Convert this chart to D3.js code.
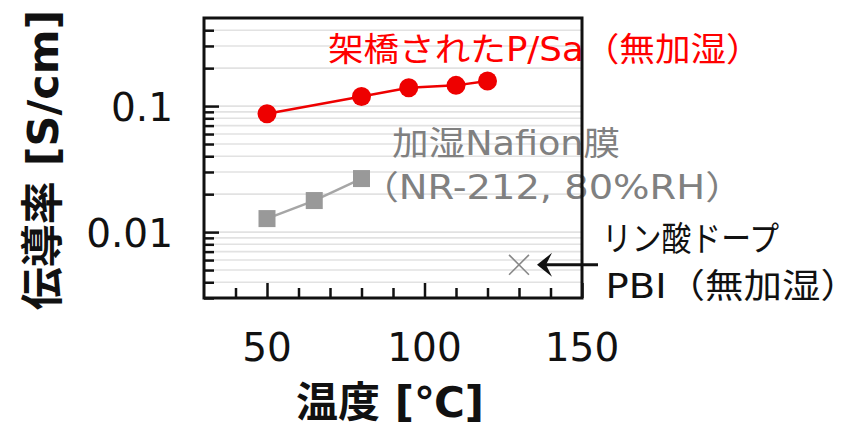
<!DOCTYPE html>
<html>
<head>
<meta charset="utf-8">
<script src="https://cdn.jsdelivr.net/npm/d3@7/dist/d3.min.js"></script>
<style>
  html, body { margin: 0; padding: 0; background: #fff; }
  svg { display: block; }
  text { font-family: "DejaVu Sans", "Noto Sans CJK JP", sans-serif; }
</style>
</head>
<body>
<svg id="chart" width="852" height="428"></svg>
<script>
// Crosslinked P/Sa (no humidification)
const psaTemp = [50, 80, 95, 110, 120];
const psaCond = [0.087, 0.119, 0.140, 0.146, 0.158];
// Humidified Nafion NR-212, 80%RH
const nafionTemp = [50, 65, 80];
const nafionCond = [0.0128, 0.0178, 0.0266];
// Phosphoric-acid-doped PBI (no humidification)
const pbiTemp = [130];
const pbiCond = [0.0055];

const xMajorTicks = [50, 100, 150];
const xMinorTicks = [40, 60, 70, 80, 90, 110, 120, 130, 140];
const yMajorTicks = [0.01, 0.1];
const yMinorTicks = [0.003, 0.004, 0.005, 0.006, 0.007, 0.008, 0.009,
                     0.02, 0.03, 0.04, 0.05, 0.06, 0.07, 0.08, 0.09,
                     0.2, 0.3, 0.4];

const labelPsa = "架橋されたP/Sa（無加湿）";
const labelNafion = ["加湿Nafion膜", "（NR-212, 80%RH）"];
const labelPbi = ["リン酸ドープ", "PBI（無加湿）"];
const xTitle = "温度 [℃]";
const yTitle = "伝導率 [S/cm]";

const FONT = '"DejaVu Sans", "Noto Sans CJK JP", sans-serif';
const svg = d3.select("#chart");
const L = 204, R = 582, T = 18, B = 298;

const x = d3.scaleLinear().domain([30, 150]).range([L, R]);
const y = d3.scaleLog().domain([0.003, 0.5]).range([B, T]);

// horizontal grid at every major and minor decade step
svg.append("g")
  .selectAll("line")
  .data(yMajorTicks.concat(yMinorTicks))
  .join("line")
  .attr("x1", L).attr("x2", R)
  .attr("y1", d => y(d)).attr("y2", d => y(d))
  .attr("stroke", "#e2e2e2").attr("stroke-width", 1.6);

// inward ticks
const xAxisMinor = d3.axisTop(x).tickValues(xMinorTicks).tickSize(10).tickFormat("");
const xAxisMajor = d3.axisTop(x).tickValues(xMajorTicks).tickSize(15).tickFormat("");
const yAxisMinor = d3.axisRight(y).tickValues(yMinorTicks).tickSize(10).tickFormat("");
const yAxisMajor = d3.axisRight(y).tickValues(yMajorTicks).tickSize(15).tickFormat("");

[xAxisMinor, xAxisMajor].forEach(ax => {
  const g = svg.append("g").attr("transform", `translate(0,${B})`).call(ax);
  g.select(".domain").remove();
  g.selectAll("line").attr("stroke", "#111").attr("stroke-width", 2.5);
});
[yAxisMinor, yAxisMajor].forEach(ax => {
  const g = svg.append("g").attr("transform", `translate(${L},0)`).call(ax);
  g.select(".domain").remove();
  g.selectAll("line").attr("stroke", "#111").attr("stroke-width", 2.5);
});

// tick labels
svg.append("g").selectAll("text")
  .data(xMajorTicks).join("text")
  .attr("x", d => x(d)).attr("y", 361)
  .attr("text-anchor", "middle")
  .attr("font-size", 39).attr("fill", "#111")
  .text(d => d);
svg.append("g").selectAll("text")
  .data(yMajorTicks).join("text")
  .attr("x", 173).attr("y", d => y(d) + 15)
  .attr("text-anchor", "end")
  .attr("font-size", 39).attr("fill", "#111")
  .text(d => d3.format("~g")(d));

// axis titles
svg.append("text")
  .attr("x", 390).attr("y", 417)
  .attr("text-anchor", "middle")
  .attr("font-size", 42).attr("font-weight", "bold").attr("fill", "#111")
  .text(xTitle);
svg.append("text")
  .attr("transform", "translate(58,160) rotate(-90)")
  .attr("text-anchor", "middle")
  .attr("font-size", 43).attr("font-weight", "bold").attr("fill", "#111")
  .text(yTitle);

// annotation text fitted so its ink spans [left, right]
const ctx = document.createElement("canvas").getContext("2d");
function fittedText(str, left, right, baseline, size, color) {
  ctx.font = `${size}px ${FONT}`;
  const m = ctx.measureText(str);
  const inkL = -m.actualBoundingBoxLeft, inkR = m.actualBoundingBoxRight;
  const s = (right - left) / (inkR - inkL);
  svg.append("text")
    .attr("x", left - inkL * s).attr("y", baseline)
    .attr("font-size", size).attr("fill", color)
    .attr("textLength", m.width * s)
    .attr("lengthAdjust", "spacingAndGlyphs")
    .text(str);
}
fittedText(labelPsa, 329, 738, 61, 33, "#ff0000");
fittedText(labelNafion[0], 392, 619, 155, 33, "#808080");
fittedText(labelNafion[1], 386, 718, 199, 33, "#808080");
fittedText(labelPbi[0], 608, 779, 251, 34, "#111");
fittedText(labelPbi[1], 609, 833, 298, 34, "#111");

// frame
svg.append("rect")
  .attr("x", L).attr("y", T).attr("width", R - L).attr("height", B - T)
  .attr("fill", "none").attr("stroke", "#111").attr("stroke-width", 3);

// Nafion series
const line = (xs, ys) => d3.line().x((d, i) => x(xs[i])).y((d, i) => y(ys[i]))(xs);
svg.append("path")
  .attr("d", line(nafionTemp, nafionCond))
  .attr("fill", "none").attr("stroke", "#a6a6a6").attr("stroke-width", 2.5);
svg.append("g").selectAll("rect")
  .data(nafionTemp).join("rect")
  .attr("x", (d, i) => x(d) - 8.5).attr("y", (d, i) => y(nafionCond[i]) - 8.5)
  .attr("width", 17).attr("height", 17)
  .attr("fill", "#999999");

// P/Sa series
svg.append("path")
  .attr("d", line(psaTemp, psaCond))
  .attr("fill", "none").attr("stroke", "#ee0000").attr("stroke-width", 2.5);
svg.append("g").selectAll("circle")
  .data(psaTemp).join("circle")
  .attr("cx", d => x(d)).attr("cy", (d, i) => y(psaCond[i]))
  .attr("r", 9.5)
  .attr("fill", "#ee0000");

// PBI point
const cross = d3.symbol().type(d3.symbolX).size(260);
svg.append("g").selectAll("path")
  .data(pbiTemp).join("path")
  .attr("transform", (d, i) => `translate(${x(d)},${y(pbiCond[i])})`)
  .attr("d", cross)
  .attr("fill", "none").attr("stroke", "#888").attr("stroke-width", 1.6);

// arrow pointing to the PBI point
const ax0 = x(pbiTemp[0]) + 18, ay = y(pbiCond[0]);
svg.append("line")
  .attr("x1", 598).attr("x2", ax0 + 8)
  .attr("y1", ay).attr("y2", ay)
  .attr("stroke", "#111").attr("stroke-width", 3);
svg.append("path")
  .attr("d", `M${ax0},${ay} L${ax0 + 15},${ay - 12} L${ax0 + 9},${ay} L${ax0 + 15},${ay + 12} Z`)
  .attr("fill", "#111");
</script>
</body>
</html>
